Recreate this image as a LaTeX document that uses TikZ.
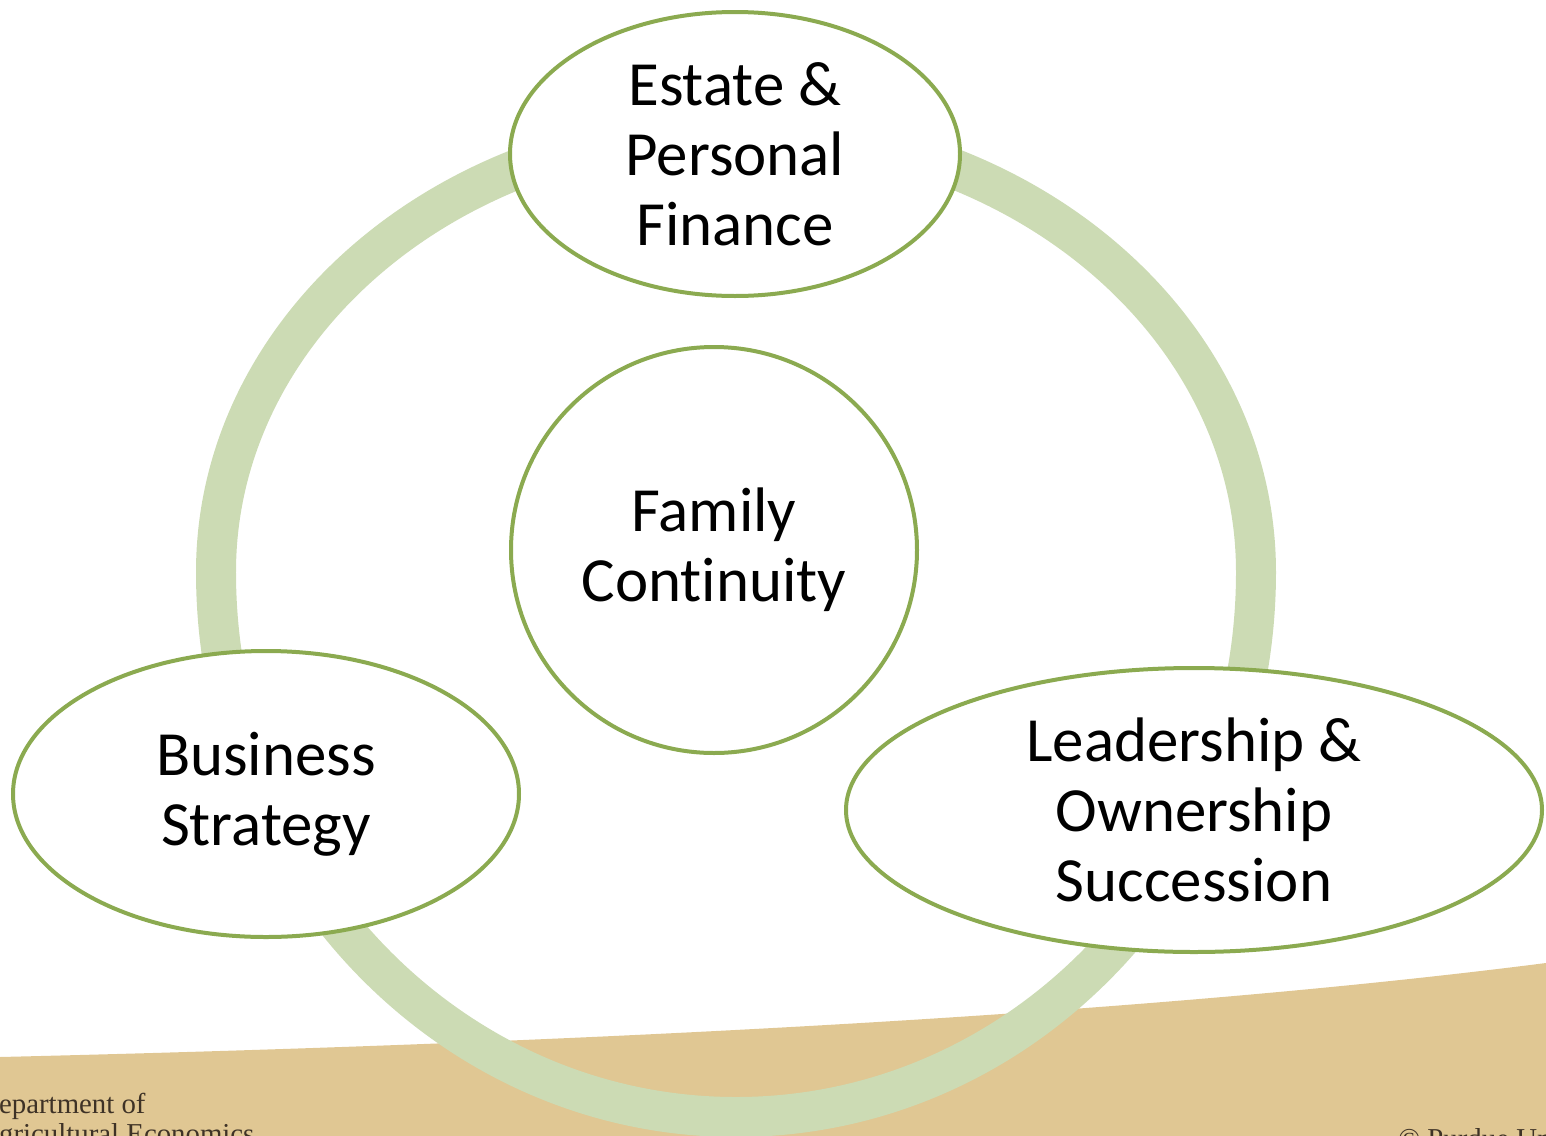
\documentclass[tikz,border=0pt]{standalone}
\usepackage{fontspec}
\setmainfont[Ligatures=NoCommon]{Carlito}
\newfontfamily\footfont{Liberation Serif}
\definecolor{ringgreen}{RGB}{204,219,180}
\definecolor{rimgreen}{RGB}{139,170,80}
\definecolor{sandtan}{RGB}{224,199,147}
\definecolor{footink}{RGB}{62,50,38}
\def\bubble{\draw[rimgreen,line width=0.08cm,fill=white]}
\def\bigtext{\fontsize{35.8}{39.8}\selectfont}

\begin{document}
\begin{tikzpicture}[x=0.02cm,y=-0.02cm,
    bubbletext/.style={font=\bigtext,align=center,inner sep=0pt},
    footline/.style={font=\footfont\fontsize{16.4}{17}\selectfont,text=footink,align=left,inner sep=0pt}]
  \useasboundingbox (0,0) rectangle (1546,1136);
  \clip (0,0) rectangle (1546,1136);
  \fill[sandtan] (0,1057) .. controls (500,1045) and (1100,1020) .. (1546,963)
    -- (1546,1136) -- (0,1136) -- cycle;
  \node[footline,anchor=base west] (dept) at (-22,1143) {Department of\\Agricultural Economics};
  \node[footline,anchor=base west] (rights) at (1398,1148) {© Purdue University};
  % the ring behind the four topics
  \draw[ringgreen,line width=0.8cm] (216,572)
    arc[start angle=180,end angle=0,x radius=520,y radius=545]
    arc[start angle=0,end angle=-180,x radius=520,y radius=444] -- cycle;
  \bubble (735,154) ellipse [x radius=225,y radius=142];
  \bubble (714,550) circle [radius=203];
  \bubble (266,794) ellipse [x radius=253,y radius=143];
  \bubble (1194,810) ellipse [x radius=348,y radius=142];
  \node[bubbletext] (estate) at (735,154) {Estate \&\\Personal\\Finance};
  \node[bubbletext] (family) at (714,550) {Family\\Continuity};
  \node[bubbletext] (business) at (266,794) {Business\\Strategy};
  \node[bubbletext] (leader) at (1194,810) {Leadership \&\\Ownership\\Succession};
\end{tikzpicture}
\end{document}
